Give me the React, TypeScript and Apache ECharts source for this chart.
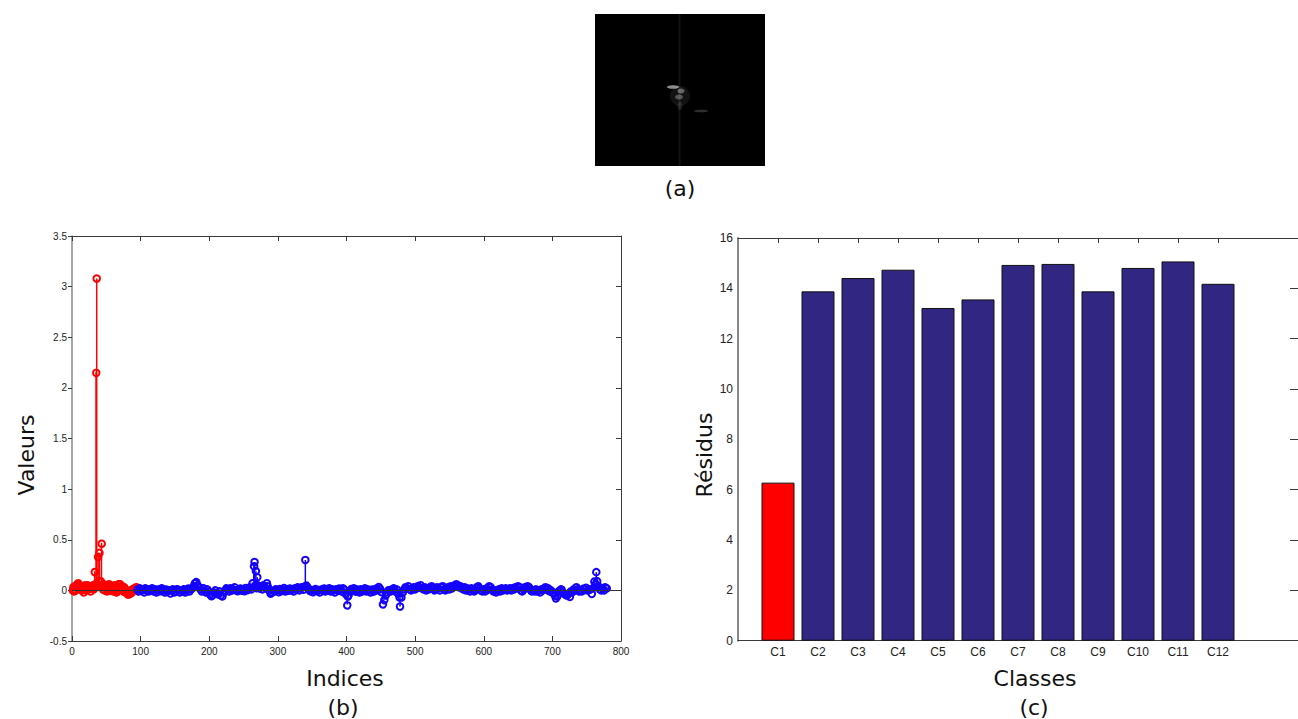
import React, { useEffect, useRef } from "react";
import * as echarts from "echarts";

// ---- (b) stem plot data: [index, value] ----
const redStems: number[][] = [
  [1, 0.01], [2, 0.03], [3, 0.0], [4, 0.04], [5, 0.01], [6, 0.03], [7, 0.05], [8, 0.06], [9, 0.07], [10, 0.05],
  [11, 0.02], [12, 0.04], [13, 0.05], [14, 0.0], [15, 0.03], [16, 0.04], [17, -0.01], [18, 0.03], [19, 0.05], [20, 0.01],
  [21, 0.0], [22, 0.04], [23, 0.06], [24, 0.01], [25, 0.05], [26, 0.02], [27, 0.0], [28, 0.03], [29, 0.05], [30, 0.02],
  [31, 0.06], [32, 0.01], [33, 0.19], [34, 0.06], [35, 2.16], [36, 3.08], [37, 0.07], [38, 0.33], [39, 0.1], [40, 0.37],
  [41, 0.06], [42, 0.09], [43, 0.47], [44, 0.05], [45, 0.02], [46, 0.06], [47, 0.01], [48, 0.04], [49, 0.06], [50, 0.02],
  [51, 0.0], [52, 0.05], [53, 0.01], [54, 0.06], [55, 0.03], [56, 0.0], [57, 0.05], [58, 0.01], [59, 0.04], [60, -0.01],
  [61, 0.02], [62, 0.05], [63, 0.0], [64, 0.03], [65, -0.01], [66, 0.02], [67, 0.05], [68, 0.06], [69, 0.07], [70, 0.06],
  [71, 0.03], [72, 0.04], [73, 0.05], [74, 0.01], [75, 0.0], [76, 0.03], [77, -0.01], [78, 0.01], [79, -0.01], [80, -0.02],
  [81, -0.03], [82, -0.02], [83, -0.03], [84, -0.01], [85, -0.02], [86, 0.0], [87, -0.01], [88, 0.01], [89, 0.02], [90, 0.0],
  [91, 0.03], [92, 0.02], [93, 0.04], [94, 0.03],
];

const blueStems: number[][] = [
  [95, 0.02], [97, 0.0], [99, 0.03], [101, 0.01], [103, 0.02], [105, -0.01], [107, 0.03], [109, 0.01], [111, 0.0], [113, 0.02],
  [115, 0.01], [117, 0.03], [119, 0.0], [121, 0.02], [123, -0.01], [125, 0.01], [127, 0.02], [129, 0.0], [131, 0.03], [133, 0.01],
  [135, -0.01], [137, 0.02], [139, 0.0], [141, 0.01], [143, -0.02], [145, 0.01], [147, 0.02], [149, -0.01], [151, 0.0], [153, 0.02],
  [155, 0.01], [157, -0.01], [159, 0.01], [161, 0.0], [163, 0.02], [165, -0.01], [167, 0.01], [169, 0.03], [171, 0.0], [173, 0.02],
  [175, 0.03], [177, 0.05], [179, 0.08], [181, 0.09], [183, 0.06], [185, 0.04], [187, 0.02], [189, 0.0], [191, 0.03], [193, 0.01],
  [195, -0.01], [197, 0.02], [199, 0.0], [201, -0.03], [203, -0.05], [205, -0.04], [207, -0.01], [209, 0.01], [211, -0.02], [213, -0.03],
  [215, 0.0], [217, -0.04], [219, -0.05], [221, -0.01], [223, 0.01], [225, 0.03], [227, 0.02], [229, 0.0], [231, 0.03], [233, 0.01],
  [235, 0.02], [237, 0.04], [239, 0.01], [241, 0.0], [243, 0.02], [245, 0.03], [247, 0.01], [249, 0.02], [251, 0.0], [253, 0.03],
  [255, 0.01], [257, 0.02], [259, 0.04], [261, 0.02], [263, 0.08], [265, 0.25], [266, 0.28], [267, 0.05], [268, 0.19], [269, 0.03],
  [270, 0.13], [271, 0.06], [273, 0.03], [275, 0.05], [277, 0.02], [279, 0.06], [281, 0.04], [283, 0.03], [284, 0.07], [285, 0.05],
  [287, 0.01], [289, -0.02], [291, -0.01], [293, 0.01], [295, 0.0], [297, 0.02], [299, 0.01], [301, -0.01], [303, 0.02], [305, 0.0],
  [307, 0.01], [309, 0.03], [311, 0.0], [313, 0.02], [315, 0.01], [317, 0.03], [319, 0.01], [321, 0.02], [323, 0.0], [325, 0.03],
  [327, 0.02], [329, 0.04], [331, 0.01], [333, 0.03], [335, 0.04], [337, 0.02], [339, 0.05], [340, 0.3], [341, 0.06], [343, 0.04],
  [345, 0.02], [347, 0.0], [349, 0.01], [351, -0.01], [353, 0.01], [355, 0.02], [357, 0.0], [359, 0.01], [361, -0.01], [363, 0.02],
  [365, 0.01], [367, 0.03], [369, 0.0], [371, 0.02], [373, 0.01], [375, 0.03], [377, 0.0], [379, 0.02], [381, 0.01], [383, -0.01],
  [385, 0.02], [387, 0.01], [389, 0.03], [391, 0.02], [393, 0.0], [395, 0.03], [397, 0.01], [399, -0.03], [401, -0.14], [402, -0.06],
  [403, -0.04], [405, 0.0], [407, 0.02], [409, 0.01], [411, 0.03], [413, 0.0], [415, 0.02], [417, 0.01], [419, -0.01], [421, 0.02],
  [423, 0.0], [425, 0.01], [427, 0.03], [429, 0.0], [431, 0.02], [433, 0.01], [435, -0.01], [437, 0.02], [439, 0.0], [441, 0.01],
  [443, 0.03], [445, 0.01], [447, 0.04], [449, 0.02], [451, -0.01], [453, -0.13], [455, -0.09], [457, -0.04], [459, -0.01], [461, 0.01],
  [463, 0.0], [465, 0.02], [467, 0.01], [469, 0.03], [471, 0.0], [473, 0.02], [475, -0.02], [477, -0.06], [478, -0.16], [480, -0.07],
  [482, -0.02], [484, 0.01], [486, 0.03], [488, 0.02], [490, 0.04], [492, 0.01], [494, 0.0], [496, 0.02], [498, 0.03], [500, 0.01],
  [502, 0.02], [504, 0.04], [506, 0.03], [508, 0.05], [510, 0.02], [512, 0.01], [514, 0.03], [516, 0.0], [518, 0.02], [520, 0.01],
  [522, 0.03], [524, 0.04], [526, 0.02], [528, 0.0], [530, 0.01], [532, 0.03], [534, 0.02], [536, 0.0], [538, 0.03], [540, 0.04],
  [542, 0.01], [544, 0.0], [546, 0.02], [548, 0.03], [550, 0.01], [552, 0.04], [554, 0.02], [556, 0.04], [558, 0.05], [560, 0.06],
  [562, 0.05], [564, 0.03], [566, 0.04], [568, 0.02], [570, 0.01], [572, 0.03], [574, 0.0], [576, 0.02], [578, 0.01], [580, -0.01],
  [582, 0.02], [584, 0.0], [586, -0.01], [588, 0.01], [590, 0.03], [592, 0.04], [594, 0.02], [596, 0.0], [598, -0.01], [600, 0.01],
  [602, -0.01], [604, 0.02], [606, 0.01], [608, 0.04], [610, 0.03], [612, 0.01], [614, -0.01], [616, 0.0], [618, -0.02], [620, 0.0],
  [622, 0.01], [624, -0.01], [626, 0.02], [628, 0.0], [630, 0.01], [632, 0.02], [634, 0.0], [636, 0.01], [638, 0.02], [640, 0.0],
  [642, 0.02], [644, 0.01], [646, 0.03], [648, 0.02], [650, 0.04], [652, 0.03], [654, 0.0], [656, -0.01], [658, 0.01], [660, 0.03],
  [662, 0.02], [664, 0.04], [666, 0.03], [668, 0.01], [670, -0.01], [672, 0.0], [674, -0.01], [676, 0.01], [678, -0.01], [680, 0.0],
  [682, -0.02], [684, 0.01], [686, 0.0], [688, 0.02], [690, 0.03], [692, 0.01], [694, 0.02], [696, -0.01], [698, 0.0], [700, -0.02],
  [702, -0.03], [704, -0.05], [705, -0.07], [707, -0.05], [709, -0.01], [711, 0.01], [713, 0.02], [715, -0.01], [717, -0.03], [719, -0.04],
  [721, -0.05], [723, -0.02], [725, -0.05], [727, -0.01], [729, 0.0], [731, 0.02], [733, 0.01], [735, 0.03], [737, 0.02], [739, 0.0],
  [741, 0.01], [743, -0.01], [745, 0.02], [747, 0.01], [749, 0.03], [751, 0.0], [753, 0.02], [755, 0.01], [757, -0.02], [759, 0.02],
  [761, 0.095], [763, 0.06], [764, 0.18], [765, 0.1], [767, 0.04], [769, 0.02], [771, 0.0], [773, 0.03], [775, 0.01], [777, 0.04],
  [779, 0.03],
];

// ---- (c) bar chart data ----
const classes = ["C1", "C2", "C3", "C4", "C5", "C6", "C7", "C8", "C9", "C10", "C11", "C12"];
const residus = [6.28, 13.88, 14.41, 14.74, 13.22, 13.56, 14.93, 14.97, 13.88, 14.81, 15.07, 14.18];
const barColors = ["#ff0000", "#312783", "#312783", "#312783", "#312783", "#312783", "#312783", "#312783", "#312783", "#312783", "#312783", "#312783"];

const stemTicksX = [0, 100, 200, 300, 400, 500, 600, 700, 800];
const classPositions = classes.map((_, i) => i + 1);

const TICK_FONT = "'Liberation Sans', Arial, sans-serif";
const TITLE_FONT = "'DejaVu Sans', Verdana, sans-serif";

function stemRenderer(color: string) {
  return (params: any, api: any) => {
    const x = api.value(0);
    const y = api.value(1);
    const p0 = api.coord([x, 0]);
    const p1 = api.coord([x, y]);
    return {
      type: "group",
      children: [
        {
          type: "line",
          shape: { x1: p0[0], y1: p0[1], x2: p1[0], y2: p1[1] },
          style: { stroke: color, lineWidth: 1.5 },
        },
        {
          type: "circle",
          shape: { cx: p1[0], cy: p1[1], r: 3.3 },
          style: { fill: "none", stroke: color, lineWidth: 2 },
        },
      ],
    };
  };
}

export default function App() {
  const ref = useRef<HTMLDivElement>(null);

  useEffect(() => {
    if (!ref.current) return;
    const chart = echarts.init(ref.current, null, { renderer: "svg" });

    const axisLineDark = { show: true, onZero: false, lineStyle: { color: "#3a3a3a", width: 1 } };
    const tickLabel = { fontFamily: TICK_FONT, color: "#222" };

    const option: any = {
      animation: false,
      backgroundColor: "#ffffff",
      grid: [
        { left: 72, top: 236, width: 549, height: 405 },
        { left: 738, top: 238, width: 565.6, height: 402.7 },
      ],
      xAxis: [
        {
          gridIndex: 0, type: "value", min: 0, max: 800, interval: 100, position: "bottom",
          axisLine: axisLineDark,
          axisTick: { show: true, inside: true, length: 5, lineStyle: { color: "#3a3a3a" } },
          axisLabel: { ...tickLabel, fontSize: 10, margin: 5, customValues: stemTicksX },
          splitLine: { show: false },
        },
        {
          gridIndex: 0, type: "value", min: 0, max: 800, interval: 100, position: "top",
          axisLine: axisLineDark,
          axisTick: { show: true, inside: true, length: 5, lineStyle: { color: "#3a3a3a" } },
          axisLabel: { show: false },
          splitLine: { show: false },
        },
        {
          gridIndex: 1, type: "value", min: 0, max: 14, position: "bottom",
          axisLine: axisLineDark,
          axisTick: { show: false },
          axisLabel: {
            ...tickLabel, fontSize: 12, margin: 5, customValues: classPositions,
            formatter: (v: number) => classes[Math.round(v) - 1] || "",
          },
          splitLine: { show: false },
        },
        {
          gridIndex: 1, type: "value", min: 0, max: 14, position: "top",
          axisLine: axisLineDark,
          axisTick: { show: true, inside: true, length: 5, customValues: classPositions, lineStyle: { color: "#3a3a3a" } },
          axisLabel: { show: false },
          splitLine: { show: false },
        },
      ],
      yAxis: [
        {
          gridIndex: 0, type: "value", min: -0.5, max: 3.5, interval: 0.5, position: "left",
          axisLine: { show: true, onZero: false, lineStyle: { color: "#888", width: 1.5 } },
          axisTick: { show: true, inside: false, length: 4, lineStyle: { color: "#3a3a3a" } },
          axisLabel: { ...tickLabel, fontSize: 10, margin: 5 },
          splitLine: { show: false },
        },
        {
          gridIndex: 0, type: "value", min: -0.5, max: 3.5, interval: 0.5, position: "right",
          axisLine: axisLineDark,
          axisTick: { show: true, inside: true, length: 5, lineStyle: { color: "#3a3a3a" } },
          axisLabel: { show: false },
          splitLine: { show: false },
        },
        {
          gridIndex: 1, type: "value", min: 0, max: 16, interval: 2, position: "left",
          axisLine: { show: true, onZero: false, lineStyle: { color: "#888", width: 2 } },
          axisTick: { show: false },
          axisLabel: { ...tickLabel, fontSize: 12, margin: 5 },
          splitLine: { show: false },
        },
        {
          gridIndex: 1, type: "value", min: 0, max: 16, interval: 2, position: "right",
          axisLine: axisLineDark,
          axisTick: { show: true, inside: true, length: 8, lineStyle: { color: "#3a3a3a" } },
          axisLabel: { show: false },
          splitLine: { show: false },
        },
      ],
      series: [
        {
          type: "line", xAxisIndex: 0, yAxisIndex: 0, data: [], z: 1, silent: true,
          markLine: {
            silent: true, symbol: "none", label: { show: false },
            lineStyle: { color: "#333", width: 1, type: "solid" },
            data: [{ yAxis: 0 }],
          },
        },
        {
          type: "custom", name: "red", xAxisIndex: 0, yAxisIndex: 0, z: 3,
          encode: { x: 0, y: 1 },
          data: redStems,
          renderItem: stemRenderer("#ff0000"),
        },
        {
          type: "custom", name: "blue", xAxisIndex: 0, yAxisIndex: 0, z: 3,
          encode: { x: 0, y: 1 },
          data: blueStems,
          renderItem: stemRenderer("#1400ff"),
        },
        {
          type: "bar", xAxisIndex: 2, yAxisIndex: 2, barWidth: 33,
          data: residus.map((v, i) => ({
            value: [i + 1, v],
            itemStyle: { color: barColors[i], borderColor: "#111", borderWidth: 1 },
          })),
        },
      ],
      graphic: [
        { type: "rect", shape: { x: 595, y: 14, width: 170, height: 152 }, style: { fill: "#000000" } },
        { type: "rect", shape: { x: 678.5, y: 14, width: 2, height: 152 }, style: { fill: "rgba(255,255,255,0.07)" } },
        { type: "ellipse", shape: { cx: 680, cy: 96, rx: 10, ry: 10 }, style: { fill: "rgba(255,255,255,0.07)" } },
        { type: "ellipse", shape: { cx: 673, cy: 87, rx: 6, ry: 1.8 }, style: { fill: "rgba(255,255,255,0.55)" } },
        { type: "ellipse", shape: { cx: 681, cy: 91, rx: 3.5, ry: 2.5 }, style: { fill: "rgba(255,255,255,0.35)" } },
        { type: "ellipse", shape: { cx: 679, cy: 97, rx: 4, ry: 2.5 }, style: { fill: "rgba(255,255,255,0.28)" } },
        { type: "ellipse", shape: { cx: 701, cy: 111, rx: 7, ry: 1.3 }, style: { fill: "rgba(255,255,255,0.18)" } },
        { type: "ellipse", shape: { cx: 680, cy: 106, rx: 2.5, ry: 4 }, style: { fill: "rgba(255,255,255,0.1)" } },
        { type: "text", x: 680, y: 188, style: { text: "(a)", font: `22px ${TITLE_FONT}`, fill: "#111", textAlign: "center", textVerticalAlign: "middle" } },
        { type: "text", x: 26, y: 455, rotation: Math.PI / 2, style: { text: "Valeurs", font: `22px ${TITLE_FONT}`, fill: "#111", textAlign: "center", textVerticalAlign: "middle" } },
        { type: "text", x: 345, y: 678, style: { text: "Indices", font: `22px ${TITLE_FONT}`, fill: "#111", textAlign: "center", textVerticalAlign: "middle" } },
        { type: "text", x: 343, y: 707, style: { text: "(b)", font: `22px ${TITLE_FONT}`, fill: "#111", textAlign: "center", textVerticalAlign: "middle" } },
        { type: "text", x: 704, y: 455, rotation: Math.PI / 2, style: { text: "Résidus", font: `22px ${TITLE_FONT}`, fill: "#111", textAlign: "center", textVerticalAlign: "middle" } },
        { type: "text", x: 1035, y: 678, style: { text: "Classes", font: `22px ${TITLE_FONT}`, fill: "#111", textAlign: "center", textVerticalAlign: "middle" } },
        { type: "text", x: 1034, y: 707, style: { text: "(c)", font: `22px ${TITLE_FONT}`, fill: "#111", textAlign: "center", textVerticalAlign: "middle" } },
      ],
    };

    chart.setOption(option);
    return () => chart.dispose();
  }, []);

  return (
    <div
      ref={ref}
      style={{ position: "fixed", left: 0, top: 0, width: 1298, height: 719, background: "#fff" }}
    />
  );
}
